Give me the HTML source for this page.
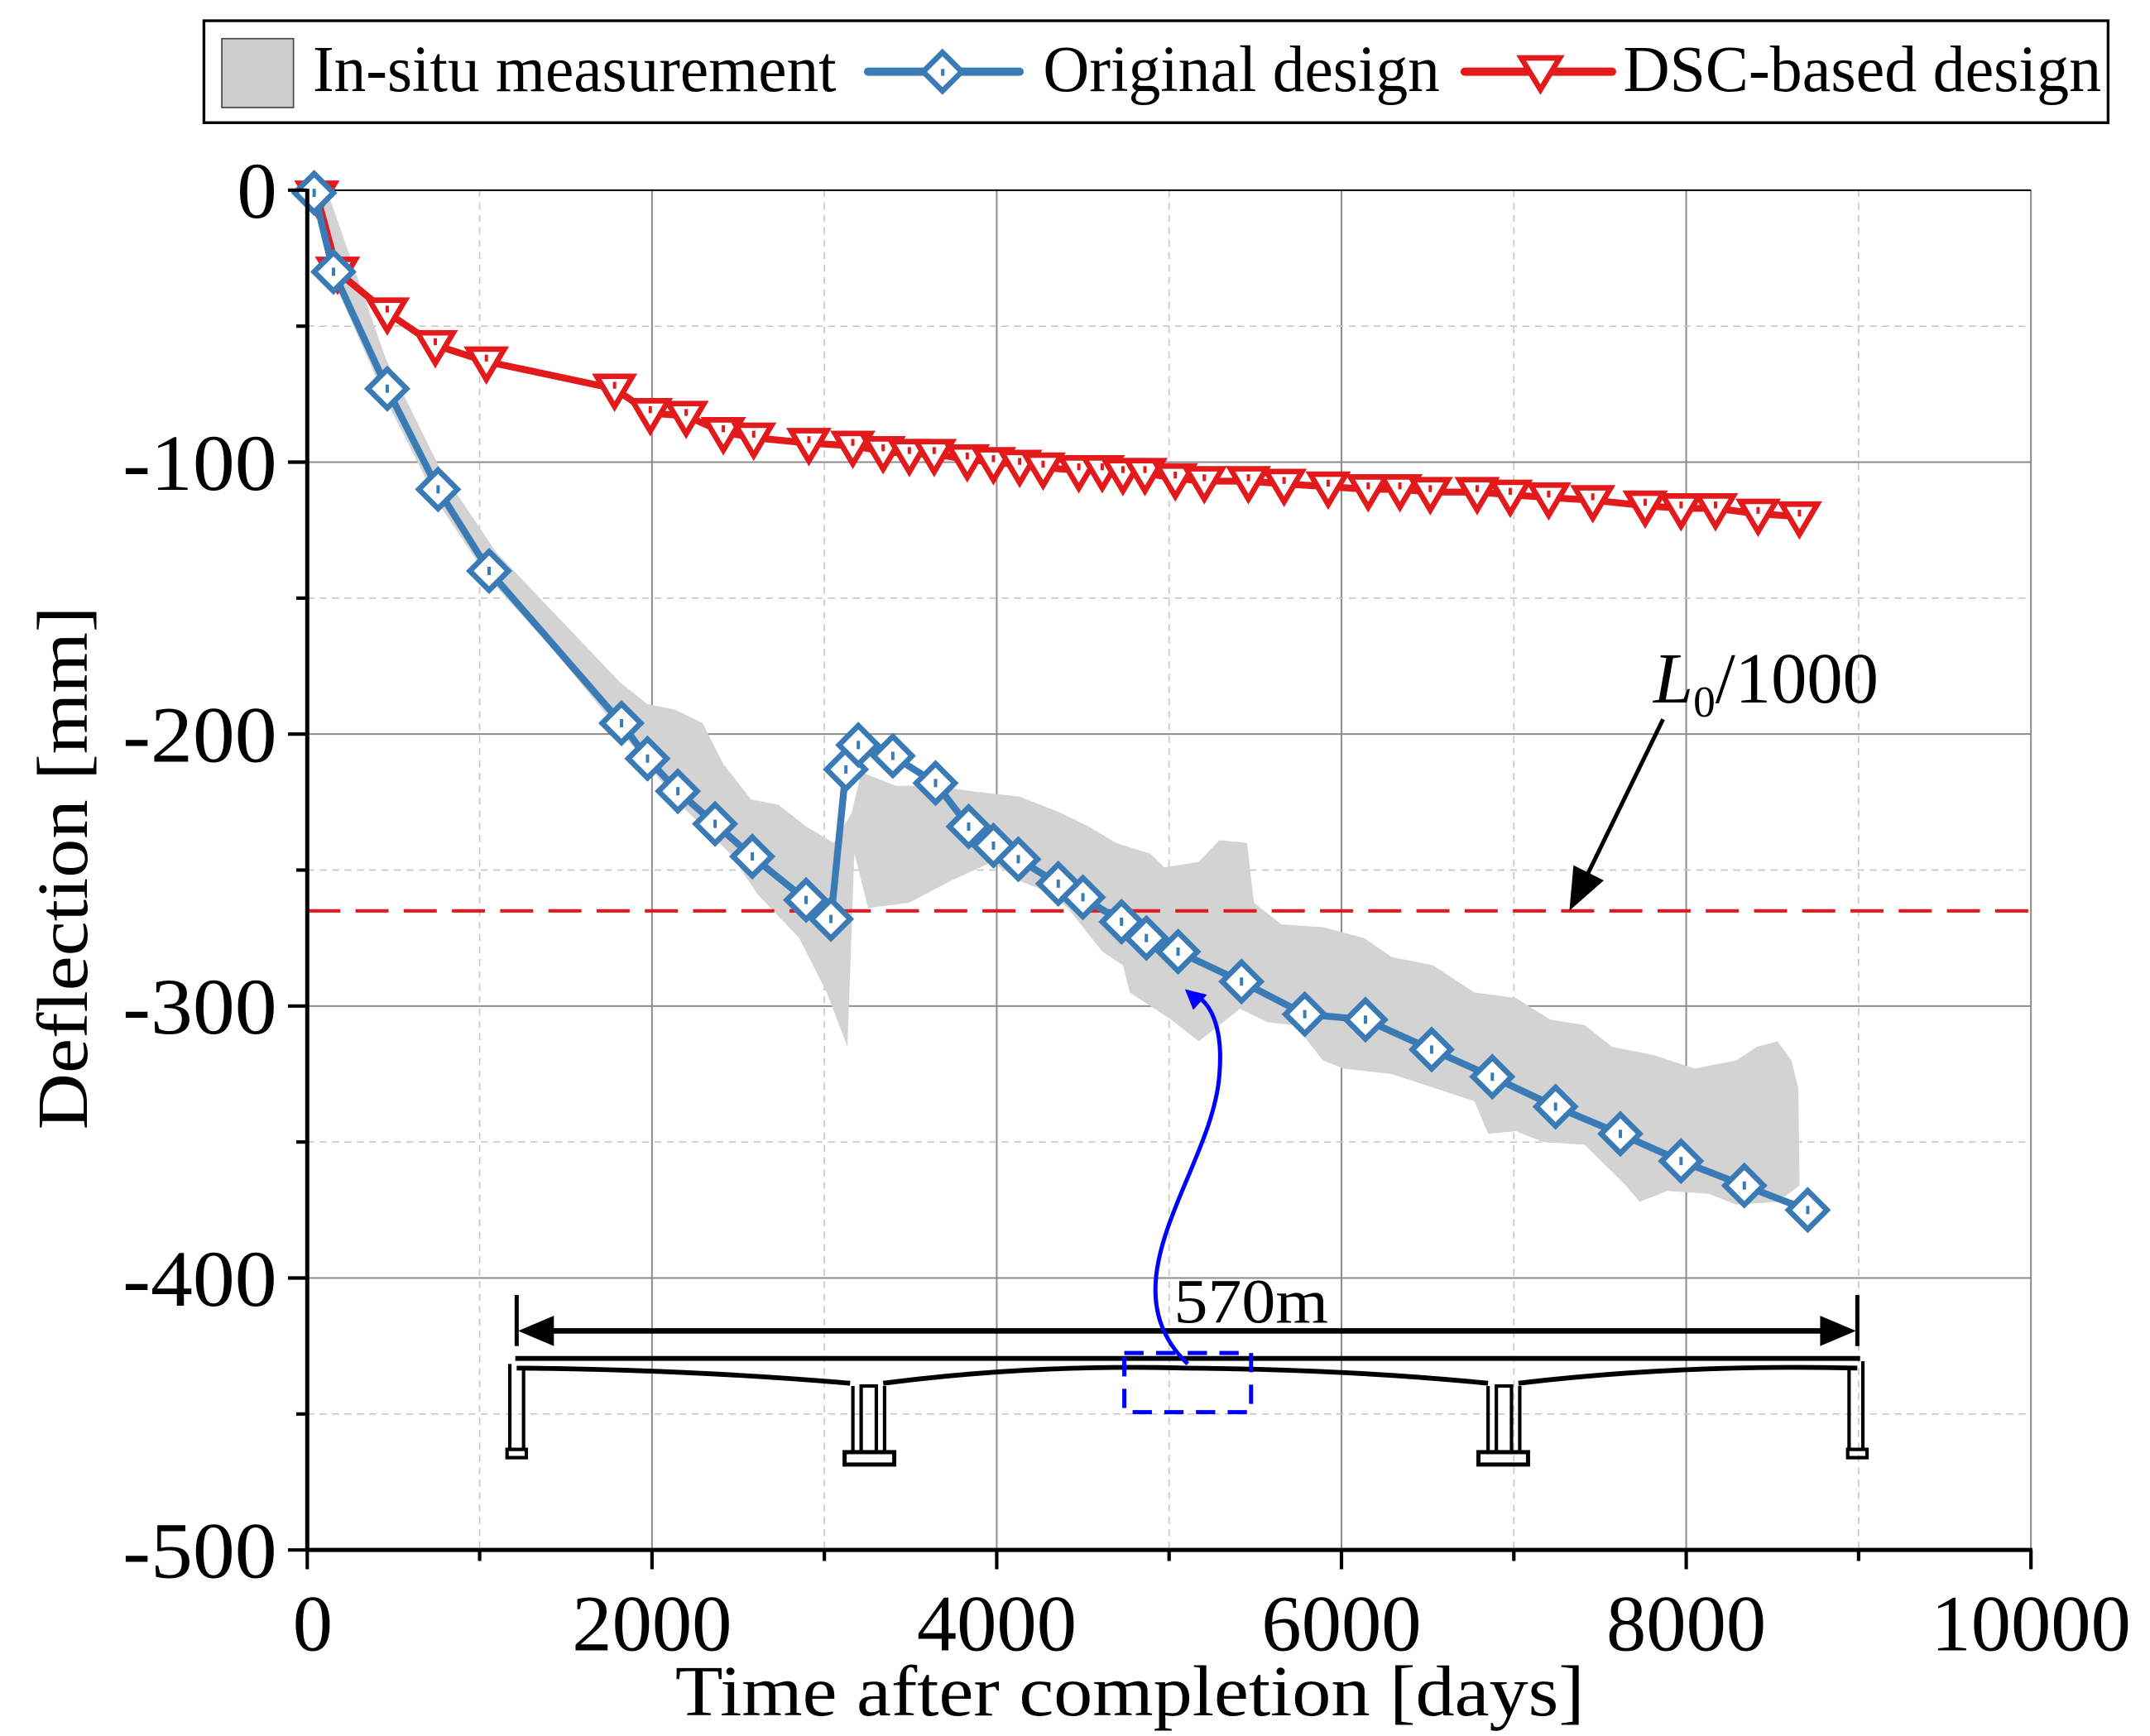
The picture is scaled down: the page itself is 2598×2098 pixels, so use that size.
<!DOCTYPE html>
<html><head><meta charset="utf-8"><style>
html,body{margin:0;padding:0;background:#fff;}
svg{display:block;font-family:"Liberation Serif",serif;}
</style></head><body>
<svg id="chart" width="2598" height="2098" viewBox="0 0 1560.4 1260" xmlns="http://www.w3.org/2000/svg">
<g id="grid"></g>
<g id="band"></g>
<g id="refline"></g>
<g id="bridge">
  <line x1="375" y1="940" x2="375" y2="977" stroke="#000" stroke-width="3"/>
  <line x1="1348" y1="940" x2="1348" y2="977" stroke="#000" stroke-width="3"/>
  <line x1="395" y1="966" x2="1330" y2="966" stroke="#000" stroke-width="4"/>
  <polygon points="376,966 402,955 402,977" fill="#000"/>
  <polygon points="1347,966 1321,955 1321,977" fill="#000"/>
  <text x="852" y="960" font-size="46" textLength="112" lengthAdjust="spacingAndGlyphs">570m</text>
  <line x1="374" y1="986" x2="1350" y2="986" stroke="#000" stroke-width="3.5"/>
  <path d="M375 993 Q500 994 617 1004 M641 1004 Q750 990 860 993 Q980 994 1080 1004 M1102 1004 Q1220 990 1348 993" fill="none" stroke="#000" stroke-width="3.5"/>
  <path d="M370 990 V1053 M380 993 V1053" stroke="#000" stroke-width="2.5"/>
  <rect x="368" y="1052" width="14" height="6" fill="none" stroke="#000" stroke-width="2.5"/>
  <path d="M1342 993 V1053 M1352 988 V1053" stroke="#000" stroke-width="2.5"/>
  <rect x="1341" y="1052" width="14" height="6" fill="none" stroke="#000" stroke-width="2.5"/>
  <rect x="625" y="1006" width="11" height="48" fill="none" stroke="#000" stroke-width="2.5"/>
  <path d="M619 1006 V1054 M642 1006 V1054" stroke="#000" stroke-width="2.5"/>
  <rect x="613" y="1054" width="36" height="9" fill="none" stroke="#000" stroke-width="3"/>
  <rect x="1086" y="1006" width="11" height="48" fill="none" stroke="#000" stroke-width="2.5"/>
  <path d="M1080 1006 V1054 M1103 1006 V1054" stroke="#000" stroke-width="2.5"/>
  <rect x="1073" y="1054" width="36" height="9" fill="none" stroke="#000" stroke-width="3"/>
  <rect x="816" y="982" width="92" height="43" fill="none" stroke="#0000ff" stroke-width="3" stroke-dasharray="14,9"/>
  <path d="M862 990 C800 930, 880 850, 885 780 C888 745, 878 726, 866 722" fill="none" stroke="#0000ff" stroke-width="3"/>
  <polygon points="860,718 876,722 866,733" fill="#0000ff"/>
</g>
<g id="series-orig"></g>
<g id="series-dsc"></g>
<g id="axes"></g>
<g>
  <text x="1200" y="510" font-size="52"><tspan font-style="italic">L</tspan><tspan font-size="32" dy="10">0</tspan><tspan dy="-10">/1000</tspan></text>
  <line x1="1207" y1="522" x2="1152" y2="635" stroke="#000" stroke-width="3"/>
  <polygon points="1139,661 1142,628 1164,639" fill="#000"/>
</g>
<g id="legend">
  <rect x="148" y="15" width="1382" height="74" fill="#fff" stroke="#000" stroke-width="2"/>
  <g>
    <rect x="161" y="28" width="52" height="50" fill="#cccccc" stroke="#444" stroke-width="1"/>
    <text x="227" y="66" font-size="48" textLength="380" lengthAdjust="spacingAndGlyphs">In-situ measurement</text>
  </g>
  <g>
    <line x1="630" y1="52" x2="740" y2="52" stroke="#3a7ab5" stroke-width="6" stroke-linecap="round"/>
    <polygon points="684,38 698,52 684,66 670,52" fill="#fff" stroke="#3a7ab5" stroke-width="4"/>
    <rect x="683" y="50" width="2.5" height="5" fill="#3a7ab5"/>
    <text x="757" y="66" font-size="48" textLength="288" lengthAdjust="spacingAndGlyphs">Original design</text>
  </g>
  <g>
    <line x1="1063" y1="52" x2="1170" y2="52" stroke="#e31a1c" stroke-width="6" stroke-linecap="round"/>
    <polygon points="1104,42 1132,42 1118,65" fill="#fff" stroke="#e31a1c" stroke-width="4"/>
    <text x="1178" y="66" font-size="48" textLength="347" lengthAdjust="spacingAndGlyphs">DSC-based design</text>
  </g>
</g>
<text x="820" y="1245" font-size="52" text-anchor="middle" textLength="660" lengthAdjust="spacingAndGlyphs">Time after completion [days]</text>
<text transform="translate(63,630) rotate(-90)" font-size="52" text-anchor="middle" textLength="380" lengthAdjust="spacingAndGlyphs">Deflection [mm]</text>
</svg>
<script>
const xTicks=[0,2000,4000,6000,8000,10000];
const yTicks=[0,-100,-200,-300,-400,-500];
const xTickLabels=["0","2000","4000","6000","8000","10000"];
const yTickLabels=["0","-100","-200","-300","-400","-500"];
const limitValue=-265;
const origDays=[40,152,464,759,1055,1823,1974,2150,2366,2582,2894,3038,3125,3197,3397,3645,3837,3981,4125,4357,4500,4724,4868,5052,5420,5787,6139,6523,6875,7242,7618,7970,8337,8705];
const origDefl=[-1,-30,-73,-110,-140,-196,-209,-221,-233,-245,-261,-268,-213,-204,-208,-218,-234,-241,-246,-255,-260,-269,-275,-280,-291,-303,-305,-316,-326,-337,-347,-357,-366,-375];
const dscDays=[56,176,464,743,1039,1783,1990,2198,2414,2590,2910,3165,3341,3493,3637,3829,3981,4133,4269,4476,4612,4732,4860,5036,5204,5460,5667,5923,6155,6339,6515,6787,6979,7202,7458,7762,7970,8170,8417,8657];
const dscDefl=[-2,-30,-45,-57,-63,-73,-82,-83,-89,-91,-93,-94,-96,-97,-97,-99,-100,-101,-102,-103,-103,-104,-104,-106,-107,-107,-108,-109,-110,-110,-111,-111,-112,-113,-114,-116,-117,-117,-119,-120];
const bandUpperDays=[56,136,456,775,1095,1815,1974,2134,2294,2414,2574,2734,2894,3054,3158,3214,3413,3653,3853,4133,4373,4533,4692,4892,4972,5172,5292,5452,5492,5652,5892,6131,6291,6531,6771,7011,7211,7411,7570,7810,8050,8290,8410,8530,8610,8650];
const bandUpperDefl=[-1,-4,-62,-103,-133,-181,-189,-191,-196,-211,-224,-226,-234,-240,-229,-214,-219,-219,-221,-223,-229,-234,-240,-244,-249,-247,-239,-240,-262,-270,-271,-275,-282,-285,-295,-297,-305,-307,-315,-318,-323,-320,-315,-313,-320,-330];
const bandLowerDays=[40,136,456,759,1055,1415,1815,1974,2134,2294,2454,2614,2854,3014,3134,3174,3254,3493,3733,3973,4133,4293,4413,4613,4732,4772,5012,5172,5412,5572,5732,5892,6011,6291,6531,6771,6851,7011,7171,7411,7650,7730,7890,8130,8290,8530,8658];
const bandLowerDefl=[-6,-31,-77,-115,-143,-168,-199,-211,-224,-234,-244,-259,-275,-295,-315,-244,-264,-262,-254,-247,-254,-258,-264,-280,-285,-295,-305,-313,-301,-306,-307,-320,-323,-325,-330,-335,-347,-346,-350,-351,-366,-372,-368,-369,-373,-372,-366];

const PL=223,PR=1474,PT=138,PB=1125;
function X(d){return PL+(d-0)/10000*(PR-PL);}
function Y(v){return PT+(0-v)/500*(PB-PT);}
const NS="http://www.w3.org/2000/svg";
function mk(parent,tag,attrs){const e=document.createElementNS(NS,tag);for(const k in attrs)e.setAttribute(k,attrs[k]);parent.appendChild(e);return e;}

const grid=document.getElementById('grid');
for(let d=1000;d<10000;d+=1000){
  const major=d%2000===0;
  const l=mk(grid,'line',{x1:X(d),x2:X(d),y1:PT,y2:PB,stroke:major?'#8c8c8c':'#c8c8c8','stroke-width':major?1.2:1,'stroke-dasharray':major?'none':'5,4'});
  
  
}
for(let v=-50;v>-500;v-=50){
  const major=v%100===0;
  const l=mk(grid,'line',{x1:PL,x2:PR,y1:Y(v),y2:Y(v),stroke:major?'#8c8c8c':'#c8c8c8','stroke-width':major?1.2:1,'stroke-dasharray':major?'none':'5,4'});
  
  
}
const rb=mk(grid,'line',{x1:PR,x2:PR,y1:PT,y2:PB,stroke:'#8c8c8c','stroke-width':1.2});


const tb=mk(grid,'line',{x1:PL,x2:PR,y1:PT,y2:PT,stroke:'#000','stroke-width':1.2});



const band=document.getElementById('band');
let pts=[];
for(let i=0;i<bandUpperDays.length;i++)pts.push(X(bandUpperDays[i])+','+Y(bandUpperDefl[i]));
for(let i=bandLowerDays.length-1;i>=0;i--)pts.push(X(bandLowerDays[i])+','+Y(bandLowerDefl[i]));
const bp=mk(band,'polygon',{points:pts.join(' '),fill:'#d3d3d3',stroke:'none'});



const rl=mk(document.getElementById('refline'),'line',{x1:PL,x2:PR,y1:Y(limitValue),y2:Y(limitValue),stroke:'#e31a1c','stroke-width':2.5,'stroke-dasharray':'24,11'});



const gd=document.getElementById('series-dsc');
const dp=mk(gd,'polyline',{points:dscDays.map((d,i)=>X(d)+','+Y(dscDefl[i])).join(' '),fill:'none',stroke:'#e31a1c','stroke-width':5,'stroke-linejoin':'round'});


dscDays.forEach((d,i)=>{
  const x=X(d),y=Y(dscDefl[i]);
  const m=mk(gd,'polygon',{points:`${x-13},${y-9} ${x+13},${y-9} ${x},${y+13}`,fill:'#fff',stroke:'#e31a1c','stroke-width':4});
  
  
  mk(gd,'rect',{x:x-1.2,y:y-5,width:2.4,height:5,fill:'#e31a1c'});
});

const go=document.getElementById('series-orig');
const op=mk(go,'polyline',{points:origDays.map((d,i)=>X(d)+','+Y(origDefl[i])).join(' '),fill:'none',stroke:'#3a7ab5','stroke-width':5,'stroke-linejoin':'round'});


origDays.forEach((d,i)=>{
  const x=X(d),y=Y(origDefl[i]);
  const m=mk(go,'polygon',{points:`${x},${y-14} ${x+14},${y} ${x},${y+14} ${x-14},${y}`,fill:'#fff',stroke:'#3a7ab5','stroke-width':4});
  
  
  mk(go,'rect',{x:x-1.2,y:y-3,width:2.4,height:6,fill:'#3a7ab5'});
});
document.getElementById('chart').insertBefore(go,gd.nextSibling);

const ax=document.getElementById('axes');
mk(ax,'line',{x1:PL,x2:PL,y1:PT-1,y2:PB+1,stroke:'#000','stroke-width':3});
mk(ax,'line',{x1:PL-1,x2:PR+1,y1:PB,y2:PB,stroke:'#000','stroke-width':3});
for(let d=0;d<=10000;d+=1000){
  const major=d%2000===0;
  mk(ax,'line',{x1:X(d),x2:X(d),y1:PB,y2:PB+(major?14:8),stroke:'#000','stroke-width':2.5});
}
for(let v=0;v>=-500;v-=50){
  const major=v%100===0;
  mk(ax,'line',{x1:PL,x2:PL-(major?14:8),y1:Y(v),y2:Y(v),stroke:'#000','stroke-width':2.5});
}
xTicks.forEach((d,i)=>{
  const lab=xTickLabels[i];
  const t=mk(ax,'text',{x:X(d)+(i===0?4:0),y:1198,'font-size':58,'text-anchor':'middle',textLength:lab.length*29,lengthAdjust:'spacingAndGlyphs'});
  t.textContent=lab;
  
  
});
yTicks.forEach((v,i)=>{
  const lab=yTickLabels[i];
  const t=mk(ax,'text',{x:201,y:Y(v)+20,'font-size':58,'text-anchor':'end',textLength:lab.length===1?29:112,lengthAdjust:'spacingAndGlyphs'});
  t.textContent=lab;
  
  
});
</script>
</body></html>
